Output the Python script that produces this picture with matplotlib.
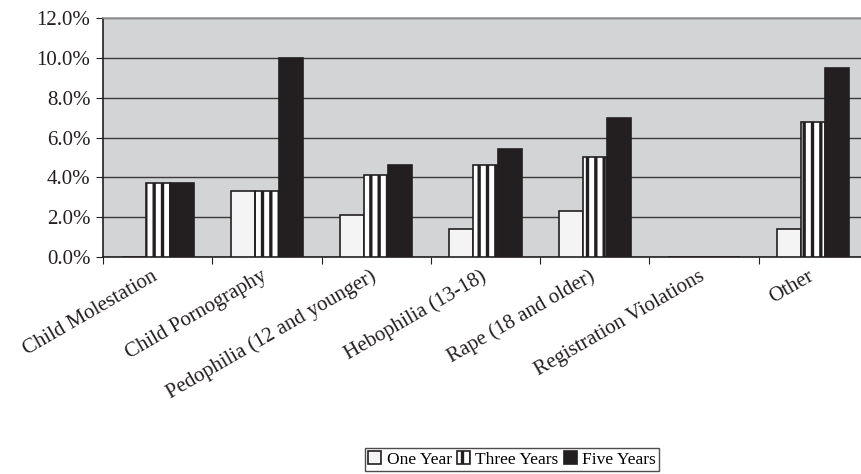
import numpy as np
import matplotlib.pyplot as plt
import matplotlib.transforms as mtransforms
from matplotlib.ticker import FuncFormatter

categories = ['Child Molestation', 'Child Pornography', 'Pedophilia (12 and younger)',
              'Hebophilia (13-18)', 'Rape (18 and older)', 'Registration Violations', 'Other']
one_year = [0.0, 3.3, 2.1, 1.4, 2.3, 0.0, 1.4]
three_years = [3.7, 3.3, 4.1, 4.6, 5.0, 0.0, 6.8]
five_years = [3.7, 10.0, 4.6, 5.4, 7.0, 0.0, 9.5]

plt.rcParams.update({
    'font.family': 'serif',
    'font.serif': ['Liberation Serif', 'DejaVu Serif'],
    'font.size': 15,
    'hatch.linewidth': 2.4,
    'hatch.color': '#231f20',
})

fig = plt.figure(figsize=(8.61, 4.74), dpi=100)
ax = fig.add_axes([103 / 861, 1 - 257 / 474, 765 / 861, 239 / 474])
ax.set_facecolor('#d3d4d6')

x = np.arange(len(categories))
w = 0.22
kw = dict(edgecolor='#231f20', linewidth=1.2, zorder=3)
ax.bar(x - w, one_year, w, color='#f4f4f4', label='One Year', **kw)
ax.bar(x, three_years, w, color='white', hatch='||', label='Three Years', **kw)
ax.bar(x + w, five_years, w, color='#231f20', label='Five Years', **kw)

ax.set_xlim(-0.5, len(categories) - 0.5)
ax.set_ylim(0, 12)
ax.set_yticks(np.arange(0, 12.1, 2))
ax.yaxis.set_major_formatter(FuncFormatter(lambda v, _: f'{v:.1f}%'))
ax.grid(axis='y', color='#3a3a3a', linewidth=1.0, zorder=0)
ax.set_axisbelow(True)

# category ticks sit on the boundaries between groups
ax.set_xticks(np.arange(-0.5, len(categories) - 0.4, 1.0))
ax.set_xticklabels([])
ax.set_xticks(x, minor=True)
ax.set_xticklabels(categories, minor=True, rotation=30, ha='right',
                   rotation_mode='anchor', color='#231f20', fontsize=15)
ax.tick_params(axis='x', which='minor', length=0, pad=7)
ax.tick_params(axis='x', which='major', length=5, color='#231f20', direction='out')
ax.tick_params(axis='y', length=5, color='#231f20', colors='#231f20', pad=4, labelsize=15)

shift = mtransforms.ScaledTranslation(-6 / 100, 0, fig.dpi_scale_trans)
for lbl in ax.get_xticklabels(minor=True):
    lbl.set_transform(lbl.get_transform() + shift)

for s in ['left', 'bottom']:
    ax.spines[s].set_color('#231f20')
    ax.spines[s].set_linewidth(1.2)
ax.spines['top'].set_color('#999999')
ax.spines['top'].set_linewidth(1.2)
ax.spines['right'].set_visible(False)

leg = fig.legend(loc='lower center', bbox_to_anchor=(512 / 861, 3 / 474), ncol=3,
                 frameon=True, fancybox=False, edgecolor='#231f20', borderaxespad=0,
                 handlelength=0.75, handleheight=0.75, handletextpad=0.3,
                 columnspacing=0.3, borderpad=0.2, fontsize=12.5)
leg.get_frame().set_linewidth(1.0)

fig.savefig('out.png', dpi=100, facecolor='white')
